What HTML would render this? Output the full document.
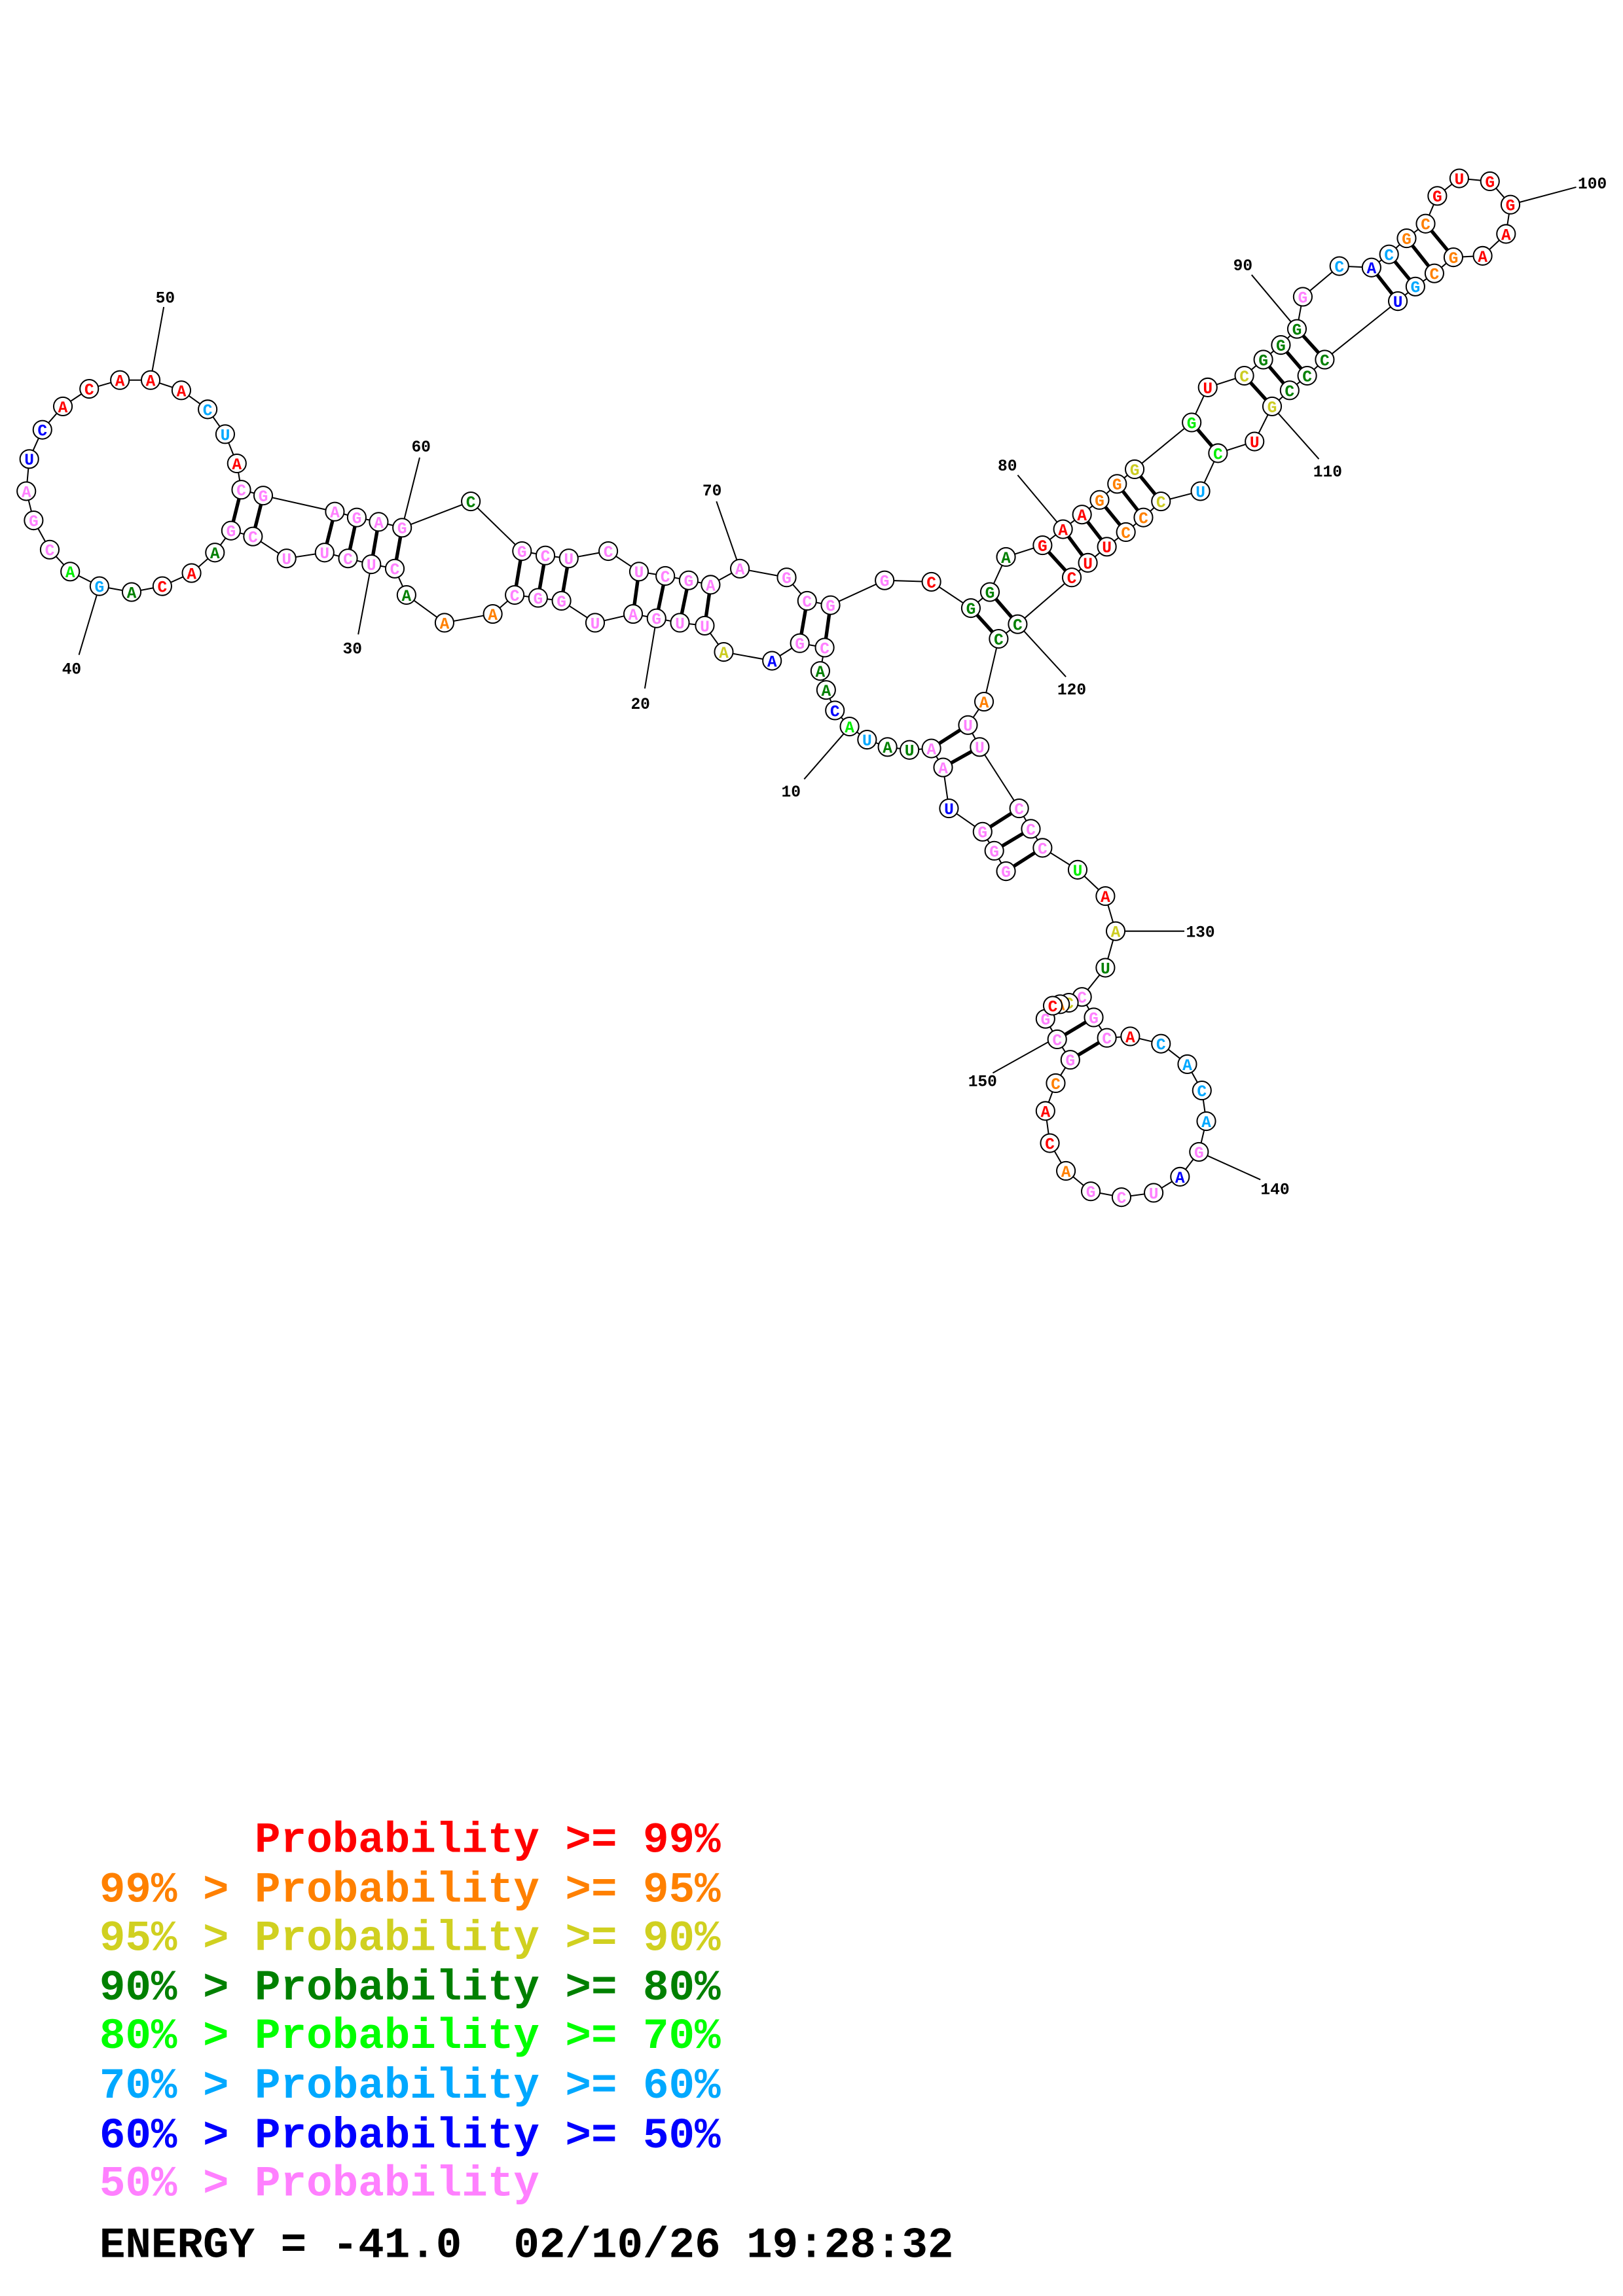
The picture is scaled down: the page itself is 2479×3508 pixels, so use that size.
<!DOCTYPE html>
<html><head><meta charset="utf-8"><style>
html,body{margin:0;padding:0;background:#fff}
svg{display:block}
.n circle{fill:#fff;stroke:#000;stroke-width:0.9}
.n text{font-family:"Liberation Mono",monospace;font-weight:bold;font-size:11px;text-anchor:middle}
.lb{font-family:"Liberation Mono",monospace;font-weight:bold;font-size:11px;fill:#000;text-anchor:middle}
.R{fill:#ff0000}.O{fill:#ff8000}.Y{fill:#cccc22}.D{fill:#008000}.G{fill:#00ee00}.L{fill:#00a8ff}.B{fill:#0000ff}.P{fill:#ff80ff}
.lg{font-family:"Liberation Mono",monospace;font-weight:bold;font-size:29.5px}
</style></head><body>
<svg width="2479" height="3508" viewBox="0 0 1110 1570.7" xmlns="http://www.w3.org/2000/svg">
<g stroke="#000" stroke-width="0.9" fill="none">
<polyline points="688,596 680,582 672,569 649,553 645,525 637,512 622,513 607,511 593,506 581,497 571,486 565,472 561,459 564,443 547,440 528,452 495,446 482,428 465,426 449,423 433,420 407,426 384,411 368,409 352,407 337,420 304,426 278,407 270,389 254,386 238,382 222,378 196,382 173,367 158,363 147,378 131,392 111,401 90,405 68,401 48,391 34,376 23,356 18,336 20,314 29,294 43,278 61,266 82,260 103,260 124,267 142,280 154,297 162,317 165,335 180,339 229,350 244,354 259,357 275,361 322,343 357,377 373,380 389,382 416,377 437,391 455,394 471,397 486,400 506,389 538,395 552,411 568,414 605,397 637,398 664,416 677,405 688,381 713,373 727,362 740,352 752,342 764,331 776,321 815,289 826,265 851,257 864,246 876,236 887,225 891,203 916,182 938,183 950,174 962,163 975,153 983,134 998,122 1019,124 1033,140 1030,160 1014,175 994,176 981,187 968,196 956,206 906,246 894,257 882,267 870,278 858,302 833,310 821,336 794,343 782,354 770,364 757,374 744,385 733,395 696,427 683,437 673,480 662,496 670,511 697,553 705,567 713,580 737,595 756,613 763,637 756,662 740,682 748,696 757,710 773,709 794,714 812,728 822,746 825,767 820,788 807,805 789,816 767,819 746,815 729,801 718,782 715,760 722,741 732,725 723,711 715,697 720,688 725,687 731,686"/>
<!-- label leaders -->
<line x1="577" y1="502" x2="550" y2="533"/>
<line x1="449" y1="423" x2="441" y2="471"/>
<line x1="254" y1="386" x2="245" y2="434"/>
<line x1="68" y1="401" x2="54" y2="448"/>
<line x1="103" y1="260" x2="112" y2="210"/>
<line x1="275" y1="361" x2="287" y2="313"/>
<line x1="506" y1="389" x2="490" y2="343"/>
<line x1="727" y1="362" x2="696" y2="325"/>
<line x1="887" y1="225" x2="856" y2="188"/>
<line x1="1033" y1="140" x2="1078" y2="128"/>
<line x1="870" y1="278" x2="902" y2="314"/>
<line x1="696" y1="427" x2="729" y2="463"/>
<line x1="763" y1="637" x2="810" y2="637"/>
<line x1="820" y1="788" x2="862" y2="807"/>
<line x1="722" y1="710" x2="679" y2="734"/>
</g>
<g stroke="#000" stroke-width="2.4">
<line x1="688" y1="596" x2="713" y2="580"/><line x1="680" y1="582" x2="705" y2="567"/><line x1="672" y1="569" x2="697" y2="553"/>
<line x1="645" y1="525" x2="670" y2="511"/><line x1="637" y1="512" x2="662" y2="496"/>
<line x1="564" y1="443" x2="568" y2="414"/><line x1="547" y1="440" x2="552" y2="411"/>
<line x1="482" y1="428" x2="486" y2="400"/><line x1="465" y1="426" x2="471" y2="397"/><line x1="449" y1="423" x2="455" y2="394"/><line x1="433" y1="420" x2="437" y2="391"/>
<line x1="384" y1="411" x2="389" y2="382"/><line x1="368" y1="409" x2="373" y2="380"/><line x1="352" y1="407" x2="357" y2="377"/>
<line x1="270" y1="389" x2="275" y2="361"/><line x1="254" y1="386" x2="259" y2="357"/><line x1="238" y1="382" x2="244" y2="354"/><line x1="222" y1="378" x2="229" y2="350"/>
<line x1="173" y1="367" x2="180" y2="339"/><line x1="158" y1="363" x2="165" y2="335"/>
<line x1="664" y1="416" x2="683" y2="437"/><line x1="677" y1="405" x2="696" y2="427"/>
<line x1="713" y1="373" x2="733" y2="395"/><line x1="727" y1="362" x2="744" y2="385"/><line x1="740" y1="352" x2="757" y2="374"/><line x1="752" y1="342" x2="770" y2="364"/><line x1="764" y1="331" x2="782" y2="354"/><line x1="776" y1="321" x2="794" y2="343"/>
<line x1="815" y1="289" x2="833" y2="310"/>
<line x1="851" y1="257" x2="870" y2="278"/><line x1="864" y1="246" x2="882" y2="267"/><line x1="876" y1="236" x2="894" y2="257"/><line x1="887" y1="225" x2="906" y2="246"/>
<line x1="938" y1="183" x2="956" y2="206"/><line x1="950" y1="174" x2="968" y2="196"/><line x1="962" y1="163" x2="981" y2="187"/><line x1="975" y1="153" x2="994" y2="176"/>
<line x1="748" y1="696" x2="723" y2="711"/><line x1="757" y1="710" x2="732" y2="725"/>
</g>
<g class="lb">
<text x="541" y="545">10</text><text x="438" y="485">20</text><text x="241" y="447">30</text><text x="49" y="461">40</text><text x="113" y="207">50</text><text x="288" y="309">60</text><text x="487" y="339">70</text><text x="689" y="322">80</text><text x="850" y="185">90</text><text x="1089" y="129">100</text><text x="908" y="326">110</text><text x="733" y="475">120</text><text x="821" y="641">130</text><text x="872" y="817">140</text><text x="672" y="743">150</text>
</g>
<g class="n">
<circle cx="688" cy="596" r="6.3"/><text x="688" y="600" class="P">G</text>
<circle cx="680" cy="582" r="6.3"/><text x="680" y="586" class="P">G</text>
<circle cx="672" cy="569" r="6.3"/><text x="672" y="573" class="P">G</text>
<circle cx="649" cy="553" r="6.3"/><text x="649" y="557" class="B">U</text>
<circle cx="645" cy="525" r="6.3"/><text x="645" y="529" class="P">A</text>
<circle cx="637" cy="512" r="6.3"/><text x="637" y="516" class="P">A</text>
<circle cx="622" cy="513" r="6.3"/><text x="622" y="517" class="D">U</text>
<circle cx="607" cy="511" r="6.3"/><text x="607" y="515" class="D">A</text>
<circle cx="593" cy="506" r="6.3"/><text x="593" y="510" class="L">U</text>
<circle cx="581" cy="497" r="6.3"/><text x="581" y="501" class="G">A</text>
<circle cx="571" cy="486" r="6.3"/><text x="571" y="490" class="B">C</text>
<circle cx="565" cy="472" r="6.3"/><text x="565" y="476" class="D">A</text>
<circle cx="561" cy="459" r="6.3"/><text x="561" y="463" class="D">A</text>
<circle cx="564" cy="443" r="6.3"/><text x="564" y="447" class="P">C</text>
<circle cx="547" cy="440" r="6.3"/><text x="547" y="444" class="P">G</text>
<circle cx="528" cy="452" r="6.3"/><text x="528" y="456" class="B">A</text>
<circle cx="495" cy="446" r="6.3"/><text x="495" y="450" class="Y">A</text>
<circle cx="482" cy="428" r="6.3"/><text x="482" y="432" class="P">U</text>
<circle cx="465" cy="426" r="6.3"/><text x="465" y="430" class="P">U</text>
<circle cx="449" cy="423" r="6.3"/><text x="449" y="427" class="P">G</text>
<circle cx="433" cy="420" r="6.3"/><text x="433" y="424" class="P">A</text>
<circle cx="407" cy="426" r="6.3"/><text x="407" y="430" class="P">U</text>
<circle cx="384" cy="411" r="6.3"/><text x="384" y="415" class="P">G</text>
<circle cx="368" cy="409" r="6.3"/><text x="368" y="413" class="P">G</text>
<circle cx="352" cy="407" r="6.3"/><text x="352" y="411" class="P">C</text>
<circle cx="337" cy="420" r="6.3"/><text x="337" y="424" class="O">A</text>
<circle cx="304" cy="426" r="6.3"/><text x="304" y="430" class="O">A</text>
<circle cx="278" cy="407" r="6.3"/><text x="278" y="411" class="D">A</text>
<circle cx="270" cy="389" r="6.3"/><text x="270" y="393" class="P">C</text>
<circle cx="254" cy="386" r="6.3"/><text x="254" y="390" class="P">U</text>
<circle cx="238" cy="382" r="6.3"/><text x="238" y="386" class="P">C</text>
<circle cx="222" cy="378" r="6.3"/><text x="222" y="382" class="P">U</text>
<circle cx="196" cy="382" r="6.3"/><text x="196" y="386" class="P">U</text>
<circle cx="173" cy="367" r="6.3"/><text x="173" y="371" class="P">C</text>
<circle cx="158" cy="363" r="6.3"/><text x="158" y="367" class="P">G</text>
<circle cx="147" cy="378" r="6.3"/><text x="147" y="382" class="D">A</text>
<circle cx="131" cy="392" r="6.3"/><text x="131" y="396" class="R">A</text>
<circle cx="111" cy="401" r="6.3"/><text x="111" y="405" class="R">C</text>
<circle cx="90" cy="405" r="6.3"/><text x="90" y="409" class="D">A</text>
<circle cx="68" cy="401" r="6.3"/><text x="68" y="405" class="L">G</text>
<circle cx="48" cy="391" r="6.3"/><text x="48" y="395" class="G">A</text>
<circle cx="34" cy="376" r="6.3"/><text x="34" y="380" class="P">C</text>
<circle cx="23" cy="356" r="6.3"/><text x="23" y="360" class="P">G</text>
<circle cx="18" cy="336" r="6.3"/><text x="18" y="340" class="P">A</text>
<circle cx="20" cy="314" r="6.3"/><text x="20" y="318" class="B">U</text>
<circle cx="29" cy="294" r="6.3"/><text x="29" y="298" class="B">C</text>
<circle cx="43" cy="278" r="6.3"/><text x="43" y="282" class="R">A</text>
<circle cx="61" cy="266" r="6.3"/><text x="61" y="270" class="R">C</text>
<circle cx="82" cy="260" r="6.3"/><text x="82" y="264" class="R">A</text>
<circle cx="103" cy="260" r="6.3"/><text x="103" y="264" class="R">A</text>
<circle cx="124" cy="267" r="6.3"/><text x="124" y="271" class="R">A</text>
<circle cx="142" cy="280" r="6.3"/><text x="142" y="284" class="L">C</text>
<circle cx="154" cy="297" r="6.3"/><text x="154" y="301" class="L">U</text>
<circle cx="162" cy="317" r="6.3"/><text x="162" y="321" class="R">A</text>
<circle cx="165" cy="335" r="6.3"/><text x="165" y="339" class="P">C</text>
<circle cx="180" cy="339" r="6.3"/><text x="180" y="343" class="P">G</text>
<circle cx="229" cy="350" r="6.3"/><text x="229" y="354" class="P">A</text>
<circle cx="244" cy="354" r="6.3"/><text x="244" y="358" class="P">G</text>
<circle cx="259" cy="357" r="6.3"/><text x="259" y="361" class="P">A</text>
<circle cx="275" cy="361" r="6.3"/><text x="275" y="365" class="P">G</text>
<circle cx="322" cy="343" r="6.3"/><text x="322" y="347" class="D">C</text>
<circle cx="357" cy="377" r="6.3"/><text x="357" y="381" class="P">G</text>
<circle cx="373" cy="380" r="6.3"/><text x="373" y="384" class="P">C</text>
<circle cx="389" cy="382" r="6.3"/><text x="389" y="386" class="P">U</text>
<circle cx="416" cy="377" r="6.3"/><text x="416" y="381" class="P">C</text>
<circle cx="437" cy="391" r="6.3"/><text x="437" y="395" class="P">U</text>
<circle cx="455" cy="394" r="6.3"/><text x="455" y="398" class="P">C</text>
<circle cx="471" cy="397" r="6.3"/><text x="471" y="401" class="P">G</text>
<circle cx="486" cy="400" r="6.3"/><text x="486" y="404" class="P">A</text>
<circle cx="506" cy="389" r="6.3"/><text x="506" y="393" class="P">A</text>
<circle cx="538" cy="395" r="6.3"/><text x="538" y="399" class="P">G</text>
<circle cx="552" cy="411" r="6.3"/><text x="552" y="415" class="P">C</text>
<circle cx="568" cy="414" r="6.3"/><text x="568" y="418" class="P">G</text>
<circle cx="605" cy="397" r="6.3"/><text x="605" y="401" class="P">G</text>
<circle cx="637" cy="398" r="6.3"/><text x="637" y="402" class="R">C</text>
<circle cx="664" cy="416" r="6.3"/><text x="664" y="420" class="D">G</text>
<circle cx="677" cy="405" r="6.3"/><text x="677" y="409" class="D">G</text>
<circle cx="688" cy="381" r="6.3"/><text x="688" y="385" class="D">A</text>
<circle cx="713" cy="373" r="6.3"/><text x="713" y="377" class="R">G</text>
<circle cx="727" cy="362" r="6.3"/><text x="727" y="366" class="R">A</text>
<circle cx="740" cy="352" r="6.3"/><text x="740" y="356" class="R">A</text>
<circle cx="752" cy="342" r="6.3"/><text x="752" y="346" class="O">G</text>
<circle cx="764" cy="331" r="6.3"/><text x="764" y="335" class="O">G</text>
<circle cx="776" cy="321" r="6.3"/><text x="776" y="325" class="Y">G</text>
<circle cx="815" cy="289" r="6.3"/><text x="815" y="293" class="G">G</text>
<circle cx="826" cy="265" r="6.3"/><text x="826" y="269" class="R">U</text>
<circle cx="851" cy="257" r="6.3"/><text x="851" y="261" class="Y">C</text>
<circle cx="864" cy="246" r="6.3"/><text x="864" y="250" class="D">G</text>
<circle cx="876" cy="236" r="6.3"/><text x="876" y="240" class="D">G</text>
<circle cx="887" cy="225" r="6.3"/><text x="887" y="229" class="D">G</text>
<circle cx="891" cy="203" r="6.3"/><text x="891" y="207" class="P">G</text>
<circle cx="916" cy="182" r="6.3"/><text x="916" y="186" class="L">C</text>
<circle cx="938" cy="183" r="6.3"/><text x="938" y="187" class="B">A</text>
<circle cx="950" cy="174" r="6.3"/><text x="950" y="178" class="L">C</text>
<circle cx="962" cy="163" r="6.3"/><text x="962" y="167" class="O">G</text>
<circle cx="975" cy="153" r="6.3"/><text x="975" y="157" class="O">C</text>
<circle cx="983" cy="134" r="6.3"/><text x="983" y="138" class="R">G</text>
<circle cx="998" cy="122" r="6.3"/><text x="998" y="126" class="R">U</text>
<circle cx="1019" cy="124" r="6.3"/><text x="1019" y="128" class="R">G</text>
<circle cx="1033" cy="140" r="6.3"/><text x="1033" y="144" class="R">G</text>
<circle cx="1030" cy="160" r="6.3"/><text x="1030" y="164" class="R">A</text>
<circle cx="1014" cy="175" r="6.3"/><text x="1014" y="179" class="R">A</text>
<circle cx="994" cy="176" r="6.3"/><text x="994" y="180" class="O">G</text>
<circle cx="981" cy="187" r="6.3"/><text x="981" y="191" class="O">C</text>
<circle cx="968" cy="196" r="6.3"/><text x="968" y="200" class="L">G</text>
<circle cx="956" cy="206" r="6.3"/><text x="956" y="210" class="B">U</text>
<circle cx="906" cy="246" r="6.3"/><text x="906" y="250" class="D">C</text>
<circle cx="894" cy="257" r="6.3"/><text x="894" y="261" class="D">C</text>
<circle cx="882" cy="267" r="6.3"/><text x="882" y="271" class="D">C</text>
<circle cx="870" cy="278" r="6.3"/><text x="870" y="282" class="Y">G</text>
<circle cx="858" cy="302" r="6.3"/><text x="858" y="306" class="R">U</text>
<circle cx="833" cy="310" r="6.3"/><text x="833" y="314" class="G">C</text>
<circle cx="821" cy="336" r="6.3"/><text x="821" y="340" class="L">U</text>
<circle cx="794" cy="343" r="6.3"/><text x="794" y="347" class="Y">C</text>
<circle cx="782" cy="354" r="6.3"/><text x="782" y="358" class="O">C</text>
<circle cx="770" cy="364" r="6.3"/><text x="770" y="368" class="O">C</text>
<circle cx="757" cy="374" r="6.3"/><text x="757" y="378" class="R">U</text>
<circle cx="744" cy="385" r="6.3"/><text x="744" y="389" class="R">U</text>
<circle cx="733" cy="395" r="6.3"/><text x="733" y="399" class="R">C</text>
<circle cx="696" cy="427" r="6.3"/><text x="696" y="431" class="D">C</text>
<circle cx="683" cy="437" r="6.3"/><text x="683" y="441" class="D">C</text>
<circle cx="673" cy="480" r="6.3"/><text x="673" y="484" class="O">A</text>
<circle cx="662" cy="496" r="6.3"/><text x="662" y="500" class="P">U</text>
<circle cx="670" cy="511" r="6.3"/><text x="670" y="515" class="P">U</text>
<circle cx="697" cy="553" r="6.3"/><text x="697" y="557" class="P">C</text>
<circle cx="705" cy="567" r="6.3"/><text x="705" y="571" class="P">C</text>
<circle cx="713" cy="580" r="6.3"/><text x="713" y="584" class="P">C</text>
<circle cx="737" cy="595" r="6.3"/><text x="737" y="599" class="G">U</text>
<circle cx="756" cy="613" r="6.3"/><text x="756" y="617" class="R">A</text>
<circle cx="763" cy="637" r="6.3"/><text x="763" y="641" class="Y">A</text>
<circle cx="756" cy="662" r="6.3"/><text x="756" y="666" class="D">U</text>
<circle cx="740" cy="682" r="6.3"/><text x="740" y="686" class="P">C</text>
<circle cx="748" cy="696" r="6.3"/><text x="748" y="700" class="P">G</text>
<circle cx="757" cy="710" r="6.3"/><text x="757" y="714" class="P">C</text>
<circle cx="773" cy="709" r="6.3"/><text x="773" y="713" class="R">A</text>
<circle cx="794" cy="714" r="6.3"/><text x="794" y="718" class="L">C</text>
<circle cx="812" cy="728" r="6.3"/><text x="812" y="732" class="L">A</text>
<circle cx="822" cy="746" r="6.3"/><text x="822" y="750" class="L">C</text>
<circle cx="825" cy="767" r="6.3"/><text x="825" y="771" class="L">A</text>
<circle cx="820" cy="788" r="6.3"/><text x="820" y="792" class="P">G</text>
<circle cx="807" cy="805" r="6.3"/><text x="807" y="809" class="B">A</text>
<circle cx="789" cy="816" r="6.3"/><text x="789" y="820" class="P">U</text>
<circle cx="767" cy="819" r="6.3"/><text x="767" y="823" class="P">C</text>
<circle cx="746" cy="815" r="6.3"/><text x="746" y="819" class="P">G</text>
<circle cx="729" cy="801" r="6.3"/><text x="729" y="805" class="O">A</text>
<circle cx="718" cy="782" r="6.3"/><text x="718" y="786" class="R">C</text>
<circle cx="715" cy="760" r="6.3"/><text x="715" y="764" class="R">A</text>
<circle cx="722" cy="741" r="6.3"/><text x="722" y="745" class="O">C</text>
<circle cx="732" cy="725" r="6.3"/><text x="732" y="729" class="P">G</text>
<circle cx="723" cy="711" r="6.3"/><text x="723" y="715" class="P">C</text>
<circle cx="715" cy="697" r="6.3"/><text x="715" y="701" class="P">G</text>
<circle cx="731" cy="686" r="6.3"/><text x="731" y="690" class="Y">C</text>
<circle cx="725" cy="687" r="6.3"/><text x="725" y="691" class="O">A</text>
<circle cx="720" cy="688" r="6.3"/><text x="720" y="692" class="R">C</text>
</g>
<g class="lg" xml:space="preserve">
<text x="68" y="1267" class="R" style="white-space:pre">      Probability &gt;= 99%</text>
<text x="68" y="1301" class="O" style="white-space:pre">99% &gt; Probability &gt;= 95%</text>
<text x="68" y="1334" style="fill:#d0d020;white-space:pre">95% &gt; Probability &gt;= 90%</text>
<text x="68" y="1368" class="D" style="white-space:pre">90% &gt; Probability &gt;= 80%</text>
<text x="68" y="1401" style="fill:#00ff00;white-space:pre">80% &gt; Probability &gt;= 70%</text>
<text x="68" y="1435" class="L" style="white-space:pre">70% &gt; Probability &gt;= 60%</text>
<text x="68" y="1469" class="B" style="white-space:pre">60% &gt; Probability &gt;= 50%</text>
<text x="68" y="1502" class="P" style="white-space:pre">50% &gt; Probability</text>
<text x="68" y="1544" style="fill:#000;white-space:pre">ENERGY = -41.0  02/10/26 19:28:32</text>
</g>
</svg>
</body></html>
